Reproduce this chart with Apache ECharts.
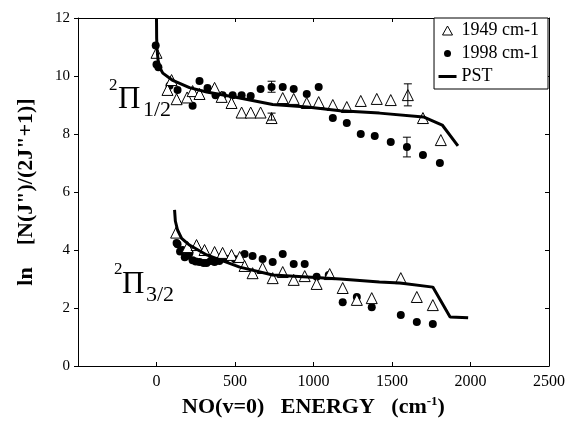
<!DOCTYPE html>
<html>
<head>
<meta charset="utf-8">
<script src="https://cdn.jsdelivr.net/npm/echarts@6/dist/echarts.min.js"></script>
<style>html,body{margin:0;padding:0;background:#fff}#c{width:569px;height:425px}</style>
</head>
<body>
<div id="c"></div>
<script>
// ---- data ----
var xTicks = [-500, 0, 500, 1000, 1500, 2000, 2500];
var yTicks = [0, 2, 4, 6, 8, 10, 12];

var tri1949Upper = [[0,10.8],[70,9.52],[96,9.86],[128,9.2],[195,9.26],[230,9.48],[274,9.38],[370,9.59],[415,9.28],[478,9.07],[542,8.74],[600,8.74],[663,8.74],[733,8.55],[804,9.24],[874,9.21],[957,9.07],[1033,9.10],[1123,9.0],[1212,8.93],[1301,9.14],[1403,9.21],[1492,9.17],[1601,9.34],[1697,8.55],[1811,7.79]];
var dot1998Upper = [[-5,11.05],[0,10.4],[12,10.3],[83,9.66],[134,9.52],[230,8.97],[274,9.83],[325,9.59],[376,9.34],[421,9.34],[485,9.34],[542,9.34],[600,9.31],[663,9.55],[733,9.62],[804,9.62],[874,9.55],[957,9.38],[1033,9.62],[1123,8.55],[1212,8.38],[1301,8.0],[1390,7.93],[1492,7.72],[1595,7.55],[1697,7.28],[1805,7.0]];
var tri1949Lower = [[125,4.6],[198,4.1],[255,4.17],[306,4.0],[370,3.93],[421,3.9],[478,3.83],[530,3.76],[561,3.45],[612,3.2],[676,3.38],[740,3.03],[804,3.24],[874,2.97],[944,3.1],[1020,2.83],[1103,3.17],[1186,2.69],[1276,2.28],[1371,2.34],[1556,3.03],[1658,2.38],[1760,2.10]];
var dot1998Lower = [[128,4.24],[134,4.2],[150,3.95],[166,4.0],[180,3.75],[200,3.8],[210,3.9],[230,3.65],[250,3.6],[274,3.59],[300,3.55],[319,3.55],[345,3.62],[370,3.59],[400,3.62],[440,3.7],[500,3.68],[561,3.86],[612,3.79],[676,3.69],[740,3.59],[804,3.86],[874,3.52],[944,3.52],[1020,3.08],[1097,3.14],[1186,2.2],[1276,2.38],[1371,2.03],[1556,1.76],[1658,1.52],[1760,1.45]];
var pstUpper = [[0,12.0],[1,11.3],[4,10.9],[10,10.55],[20,10.3],[40,10.1],[100,9.86],[210,9.6],[320,9.45],[530,9.24],[740,9.02],[960,8.93],[1170,8.8],[1420,8.72],[1700,8.59],[1820,8.31],[1920,7.59]];
var pstLower = [[115,5.38],[120,5.0],[134,4.69],[160,4.4],[210,4.17],[320,3.83],[530,3.41],[740,3.14],[960,3.07],[1170,3.0],[1420,2.9],[1550,2.86],[1760,2.72],[1870,1.69],[1985,1.66]];
// [x, y, half-height]
var errBars = [[733,9.63,0.19],[733,8.6,0.12],[1601,9.35,0.38],[1595,7.55,0.34]];

var serif = '"Liberation Serif", "DejaVu Serif", serif';
var chart = echarts.init(document.getElementById('c'));

var iconTri = 'path://M0,0 M18,10 M4,9.5 L9,0.5 L14,9.5 Z';
var iconDot = 'path://M0,0 M18,10 M5.5,5 A3.5,3.5 0 1 0 12.5,5 A3.5,3.5 0 1 0 5.5,5 Z';
var iconLine = 'path://M0,0 M18,10 M0,3.5 L18,3.5 L18,6.5 L0,6.5 Z';

chart.setOption({
  animation: false,
  grid: {left: 78, right: 20, top: 18, bottom: 59, containLabel: false},
  legend: {
    orient: 'vertical',
    right: 21, top: 18,
    backgroundColor: '#fff',
    borderColor: '#000', borderWidth: 1,
    padding: [3, 9, 3, 4],
    itemGap: 4,
    itemWidth: 18, itemHeight: 10,
    textStyle: {fontFamily: serif, fontSize: 18, color: '#000', lineHeight: 19},
    data: [
      {name: '1949 cm-1', icon: iconTri, itemStyle: {color: '#fff', borderColor: '#000', borderWidth: 1}},
      {name: '1998 cm-1', icon: iconDot, itemStyle: {color: '#000', borderWidth: 0}},
      {name: 'PST', icon: iconLine, itemStyle: {color: '#000', borderWidth: 0}}
    ]
  },
  xAxis: [
    {
      type: 'value', min: -500, max: 2500, interval: 500, position: 'bottom',
      name: '{a|NO(v=0)   ENERGY   (cm}{b|-1}{a|)}',
      nameLocation: 'middle', nameGap: 19,
      nameTextStyle: {rich: {
        a: {fontFamily: serif, fontWeight: 'bold', fontSize: 22, color: '#000', lineHeight: 24},
        b: {fontFamily: serif, fontWeight: 'bold', fontSize: 13, color: '#000', verticalAlign: 'top', lineHeight: 24, padding: [0,0,11,0]}
      }},
      axisLine: {show: true, onZero: false, lineStyle: {color: '#000'}},
      axisTick: {show: true, inside: true, length: 4, lineStyle: {color: '#000'}},
      axisLabel: {fontFamily: serif, fontSize: 16, color: '#000', margin: 8,
        formatter: function (v) { return v === -500 ? '' : String(v); }},
      splitLine: {show: false}
    },
    {
      type: 'value', min: -500, max: 2500, interval: 500, position: 'top',
      axisLine: {show: true, onZero: false, lineStyle: {color: '#000'}},
      axisTick: {show: true, inside: true, length: 4, lineStyle: {color: '#000'}},
      axisLabel: {show: false}, splitLine: {show: false}
    }
  ],
  yAxis: [
    {
      type: 'value', min: 0, max: 12, interval: 2, position: 'left',
      name: 'ln    [N(J")/(2J"+1)]',
      nameLocation: 'middle', nameGap: 41, nameRotate: 90,
      nameTextStyle: {fontFamily: serif, fontWeight: 'bold', fontSize: 22, color: '#000'},
      axisLine: {show: true, onZero: false, lineStyle: {color: '#000'}},
      axisTick: {show: true, inside: false, length: 4, lineStyle: {color: '#000'}},
      axisLabel: {fontFamily: serif, fontSize: 15, color: '#000', margin: 8},
      splitLine: {show: false}
    },
    {
      type: 'value', min: 0, max: 12, interval: 2, position: 'right',
      axisLine: {show: true, onZero: false, lineStyle: {color: '#000'}},
      axisTick: {show: true, inside: true, length: 4, lineStyle: {color: '#000'}},
      axisLabel: {show: false}, splitLine: {show: false}
    }
  ],
  series: [
    {
      name: '1998 cm-1', type: 'scatter', symbol: 'circle', symbolSize: 8,
      itemStyle: {color: '#000', opacity: 1},
      data: dot1998Upper.concat(dot1998Lower), z: 2
    },
    {
      name: '1949 cm-1', type: 'scatter', symbol: 'triangle', symbolSize: 11,
      itemStyle: {color: '#fff', borderColor: '#000', borderWidth: 1, opacity: 1},
      data: tri1949Upper.concat(tri1949Lower), z: 3
    },
    {
      name: 'errbars', type: 'custom', z: 4,
      renderItem: function (params, api) {
        var x = api.value(0), y = api.value(1), e = api.value(2);
        var top = api.coord([x, y + e]), bot = api.coord([x, y - e]);
        var st = {stroke: '#000', lineWidth: 1};
        return {type: 'group', children: [
          {type: 'line', shape: {x1: top[0], y1: top[1], x2: bot[0], y2: bot[1]}, style: st},
          {type: 'line', shape: {x1: top[0]-4, y1: top[1], x2: top[0]+4, y2: top[1]}, style: st},
          {type: 'line', shape: {x1: bot[0]-4, y1: bot[1], x2: bot[0]+4, y2: bot[1]}, style: st}
        ]};
      },
      data: errBars
    },
    {
      name: 'PST', type: 'line', showSymbol: false, symbol: 'none',
      lineStyle: {color: '#000', width: 3}, itemStyle: {color: '#000'},
      data: pstUpper, z: 5
    },
    {
      name: 'PST', type: 'line', showSymbol: false, symbol: 'none',
      lineStyle: {color: '#000', width: 3}, itemStyle: {color: '#000'},
      data: pstLower, z: 5
    }
  ],
  graphic: [
    {type: 'text', left: 109, top: 77, style: {text: '2', font: '17px ' + serif, fill: '#000'}},
    {type: 'text', left: 118, top: 84, style: {text: 'Π', font: '31px ' + serif, fill: '#000'}},
    {type: 'text', left: 143, top: 99, style: {text: '1/2', font: '22px ' + serif, fill: '#000'}},
    {type: 'text', left: 114, top: 261, style: {text: '2', font: '17px ' + serif, fill: '#000'}},
    {type: 'text', left: 122, top: 269, style: {text: 'Π', font: '31px ' + serif, fill: '#000'}},
    {type: 'text', left: 146, top: 284, style: {text: '3/2', font: '22px ' + serif, fill: '#000'}}
  ]
});
</script>
</body>
</html>
